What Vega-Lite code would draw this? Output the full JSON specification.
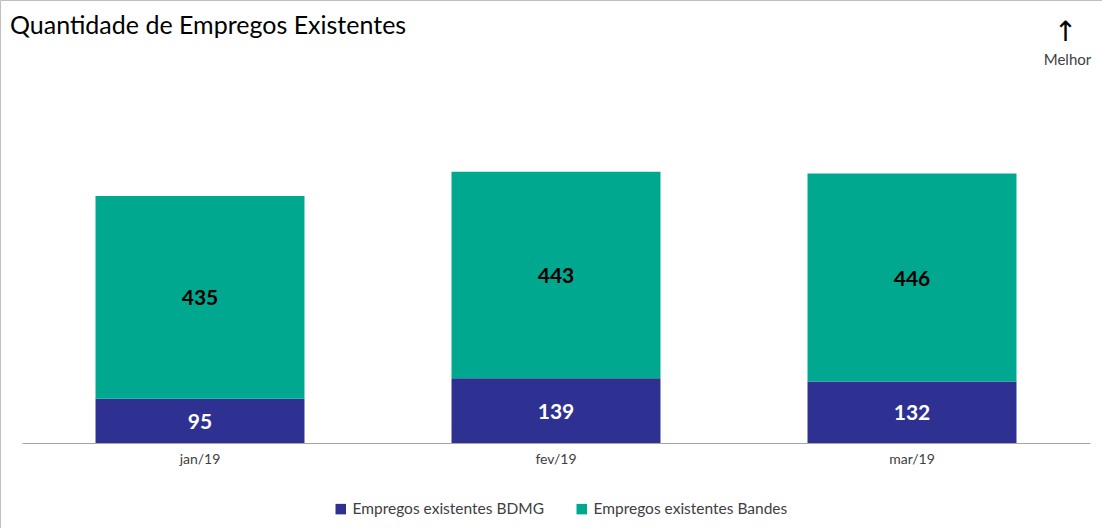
{
  "$schema": "https://vega.github.io/schema/vega-lite/v6.json",
  "width": 1102,
  "height": 528,
  "autosize": "none",
  "padding": 0,
  "background": "white",
  "title": {
    "text": "Quantidade de Empregos Existentes",
    "anchor": "start",
    "frame": "group",
    "orient": "top",
    "baseline": "top",
    "offset": -39,
    "dx": 10,
    "font": "Lato",
    "fontSize": 25,
    "fontWeight": "normal",
    "color": "#000000"
  },
  "config": {
    "view": {"stroke": "#bfbfbf", "strokeWidth": 1},
    "font": "Lato"
  },
  "data": {
    "values": [
      {"mes": "jan/19", "serie": "Empregos existentes BDMG", "ordem": 1, "valor": 95},
      {"mes": "jan/19", "serie": "Empregos existentes Bandes", "ordem": 2, "valor": 435},
      {"mes": "fev/19", "serie": "Empregos existentes BDMG", "ordem": 1, "valor": 139},
      {"mes": "fev/19", "serie": "Empregos existentes Bandes", "ordem": 2, "valor": 443},
      {"mes": "mar/19", "serie": "Empregos existentes BDMG", "ordem": 1, "valor": 132},
      {"mes": "mar/19", "serie": "Empregos existentes Bandes", "ordem": 2, "valor": 446}
    ]
  },
  "encoding": {
    "x": {
      "field": "mes",
      "type": "nominal",
      "sort": ["jan/19", "fev/19", "mar/19"],
      "scale": {"range": [22, 1090], "paddingInner": 0.413, "paddingOuter": 0.2065},
      "axis": {
        "title": null,
        "offset": -85,
        "labelAngle": 0,
        "ticks": false,
        "labelPadding": 9,
        "labelFontSize": 14,
        "labelColor": "#404040",
        "labelFont": "Lato",
        "domainColor": "#a6a6a6",
        "domainWidth": 1
      }
    }
  },
  "layer": [
    {
      "mark": {"type": "bar"},
      "encoding": {
        "y": {
          "field": "valor",
          "type": "quantitative",
          "stack": "zero",
          "scale": {"domain": [0, 843], "range": [443, 50], "nice": false},
          "axis": {
            "orient": "right",
            "domain": false,
            "ticks": false,
            "labels": false,
            "grid": false,
            "title": "↑",
            "titleAngle": 0,
            "titleX": -37,
            "titleY": 18,
            "titleAlign": "center",
            "titleBaseline": "top",
            "titleFont": "DejaVu Sans",
            "titleFontSize": 28,
            "titleFontWeight": "normal",
            "titleColor": "#000000"
          }
        },
        "color": {
          "field": "serie",
          "type": "nominal",
          "scale": {
            "domain": ["Empregos existentes BDMG", "Empregos existentes Bandes"],
            "range": ["#2e3192", "#00a88f"]
          },
          "legend": {
            "title": null,
            "orient": "none",
            "direction": "horizontal",
            "legendX": 333,
            "legendY": 501,
            "symbolType": "square",
            "symbolSize": 110,
            "symbolStrokeWidth": 0,
            "labelFont": "Lato",
            "labelFontSize": 15.5,
            "labelColor": "#404040",
            "labelLimit": 300,
            "columnPadding": 30
          }
        },
        "order": {"field": "ordem", "type": "quantitative"}
      }
    },
    {
      "transform": [
        {"stack": "valor", "groupby": ["mes"], "sort": [{"field": "ordem"}], "as": ["v0", "v1"]},
        {"calculate": "(datum.v0 + datum.v1) / 2", "as": "meio"}
      ],
      "mark": {"type": "text", "font": "Lato", "fontSize": 21, "fontWeight": "bold", "baseline": "middle", "dy": 2},
      "encoding": {
        "y": {
          "field": "meio",
          "type": "quantitative",
          "axis": {
            "orient": "left",
            "domain": false,
            "ticks": false,
            "labels": false,
            "grid": false,
            "title": "Melhor",
            "titleAngle": 0,
            "titleX": 1067,
            "titleY": 52,
            "titleAlign": "center",
            "titleBaseline": "top",
            "titleFont": "Lato",
            "titleFontSize": 15,
            "titleFontWeight": "normal",
            "titleColor": "#404040"
          }
        },
        "text": {"field": "valor", "type": "quantitative"},
        "color": {
          "field": "serie",
          "type": "nominal",
          "scale": {"domain": ["Empregos existentes BDMG", "Empregos existentes Bandes"], "range": ["#ffffff", "#000000"]},
          "legend": null
        }
      }
    }
  ],
  "resolve": {"scale": {"color": "independent"}, "axis": {"y": "independent"}}
}
